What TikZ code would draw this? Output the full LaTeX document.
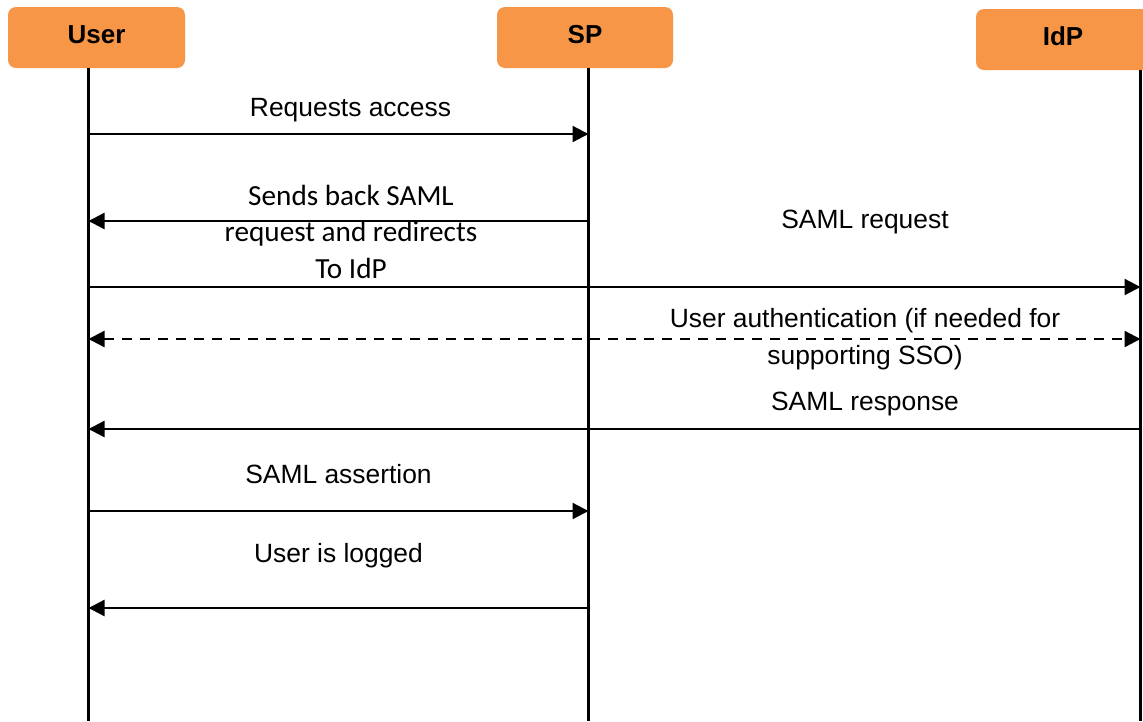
\documentclass[tikz,border=0pt]{standalone}
\usepackage{fontspec}
\setmainfont{Liberation Sans}
\newfontfamily\calibrifont{Carlito}
\usetikzlibrary{arrows.meta}
\definecolor{hdrorange}{HTML}{F79646}
\begin{document}
\begin{tikzpicture}[x=1pt,y=-1pt,
  actor/.style={fill=hdrorange, rounded corners=8pt, inner sep=0pt,
    minimum height=61pt,
    font=\fontsize{26}{30}\selectfont\bfseries,
    text height=18.6pt, text depth=7.6pt},
  lifeline/.style={line width=2.2pt},
  msg/.style={line width=2.3pt, -{Triangle[length=16pt,width=16pt]}},
  twoway/.style={line width=2.3pt, dash pattern=on 10pt off 8pt,
    {Triangle[length=16pt,width=16pt]}-{Triangle[length=16pt,width=16pt]}},
  note/.style={font=\fontsize{26.4}{37}\selectfont, anchor=base,
    align=center, inner sep=0pt}]
\useasboundingbox (0,0) rectangle (1143,721);
\clip (0,0) rectangle (1143,721);

% participants
\node[actor, minimum width=177pt] (user) at (96.5,37.5) {User};
\node[actor, minimum width=176pt] (sp)   at (585,37.5)  {SP};
\node[actor, minimum width=174pt] (idp)  at (1063,39.5) {IdP};

% lifelines
\coordinate (uTop) at (88.5,68);   \coordinate (uBot) at (88.5,721);
\coordinate (sTop) at (588.5,68);  \coordinate (sBot) at (588.5,721);
\coordinate (iTop) at (1140.5,70); \coordinate (iBot) at (1140.5,721);
\draw[lifeline] (uTop) -- (uBot);
\draw[lifeline] (sTop) -- (sBot);
\draw[lifeline] (iTop) -- (iBot);

% message end points
\coordinate (u1) at (88.5,134);  \coordinate (s1) at (588.5,134);
\coordinate (u2) at (88.5,221);  \coordinate (s2) at (588.5,221);
\coordinate (u3) at (88.5,287);  \coordinate (i3) at (1140.5,287);
\coordinate (u4) at (88.5,339);  \coordinate (i4) at (1140.5,339);
\coordinate (u5) at (88.5,429);  \coordinate (i5) at (1140.5,429);
\coordinate (u6) at (88.5,511);  \coordinate (s6) at (588.5,511);
\coordinate (u7) at (88.5,608);  \coordinate (s7) at (588.5,608);

% messages
\draw[msg] (u1) -- (s1);
\draw[msg] (s2) -- (u2);
\draw[msg] (u3) -- (i3);
\draw[twoway] (u4) -- (i4);
\draw[msg] (i5) -- (u5);
\draw[msg] (u6) -- (s6);
\draw[msg] (s7) -- (u7);

% message labels (multi-line labels sit on the baseline of their last line)
\node[note] (l1) at (350.5,116) {Requests access};
\node[note, font=\calibrifont\fontsize{29.2}{36.5}\selectfont] (l2) at (351,278)
  {Sends back SAML\\request and redirects\\To IdP};
\node[note] (l3) at (865,228) {SAML request};
\node[note] (l4) at (865,364) {User authentication (if needed for\\supporting SSO)};
\node[note] (l5) at (865,410) {SAML response};
\node[note] (l6) at (338.5,483) {SAML assertion};
\node[note] (l7) at (338.5,562) {User is logged};
\end{tikzpicture}
\end{document}
